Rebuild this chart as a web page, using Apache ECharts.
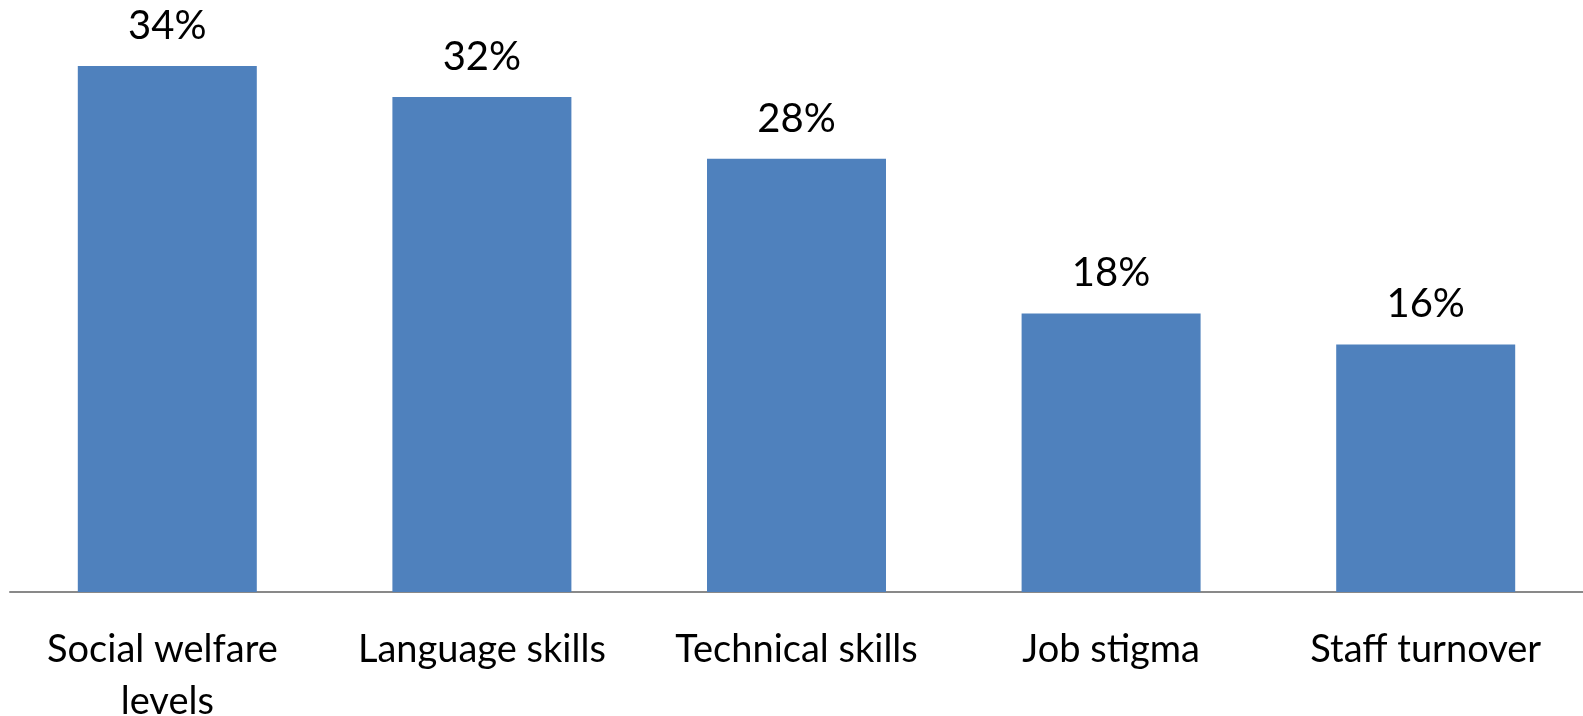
<!DOCTYPE html>
<html>
<head>
<meta charset="utf-8">
<script src="https://cdn.jsdelivr.net/npm/echarts@6/dist/echarts.min.js"></script>
<style>
  html, body { margin: 0; padding: 0; background: #fff; }
  #chart { width: 1583px; height: 716px; }
</style>
</head>
<body>
<div id="chart"></div>
<script>
// 数据
const categories = ['Social welfare levels', 'Language skills', 'Technical skills', 'Job stigma', 'Staff turnover']
const values = [34, 32, 28, 18, 16]

const myChart = echarts.init(document.getElementById('chart'))
const option = {
  animation: false,
  grid: {
    top: 66,
    left: 10,
    right: 0,
    bottom: 124,
    containLabel: false,
    outerBoundsMode: 'none'
  },
  xAxis: {
    type: 'category',
    data: categories,
    axisLine: { // 轴线
      show: true,
      lineStyle: { color: '#898989', width: 2 }
    },
    axisTick: { show: false },
    axisLabel: {
      color: '#000',
      fontFamily: 'Lato',
      fontSize: 38,
      margin: 32,
      lineHeight: 52,
      width: 300,
      overflow: 'break',
      interval: 0
    }
  },
  yAxis: {
    type: 'value',
    min: 0,
    max: 34,
    show: false,
    splitLine: { show: false }
  },
  series: [{
    type: 'bar',
    data: values,
    barWidth: 179,
    itemStyle: { color: '#4F81BD' },
    label: {
      show: true,
      position: 'top',
      distance: 20,
      formatter: '{c}%',
      color: '#000',
      fontFamily: 'Lato',
      fontSize: 40
    }
  }]
}
myChart.setOption(option)
</script>
</body>
</html>
